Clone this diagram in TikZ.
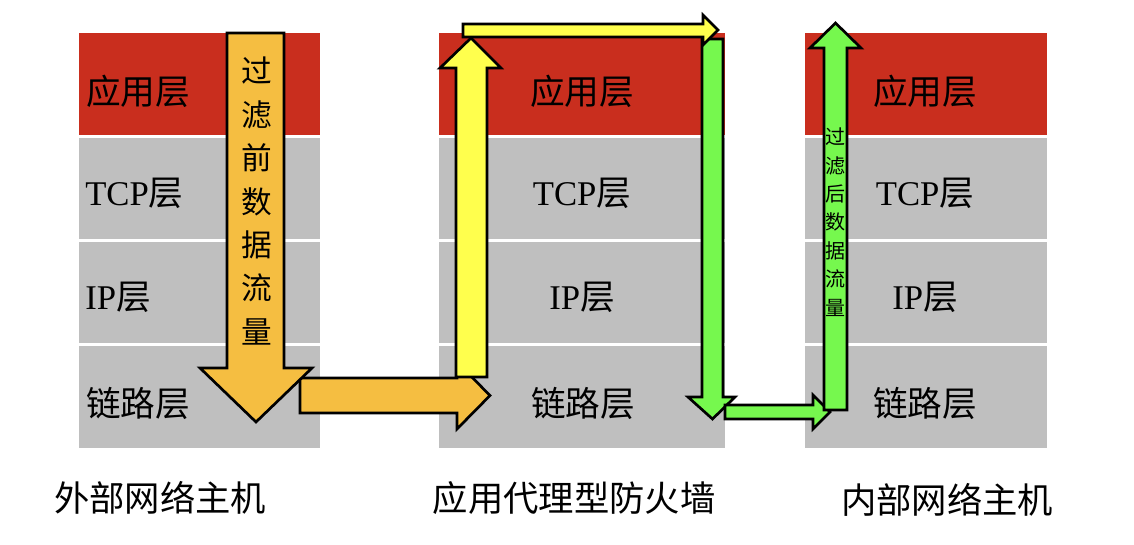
\documentclass[tikz,border=0pt]{standalone}
\usepackage{fontspec}
\setmainfont{Liberation Serif}
\newfontfamily\cjk{Noto Sans CJK SC}
\definecolor{layred}{RGB}{201,46,30}
\definecolor{laygray}{RGB}{191,191,191}
\definecolor{arrorange}{RGB}{245,190,65}
\definecolor{arryellow}{RGB}{255,255,77}
\definecolor{arrgreen}{RGB}{118,248,78}
\tikzset{
  blk/.style={draw=black, line width=2pt, line join=miter},
  laylabel/.style={inner sep=0pt, font=\fontsize{26}{28}\selectfont},
  hostlabel/.style={inner sep=0pt, font=\cjk\fontsize{26.5}{28}\selectfont},
}
\begin{document}
\begin{tikzpicture}[x=0.75pt,y=-0.75pt]
\useasboundingbox (0,0) rectangle (1134,544);
\fill[white] (0,0) rectangle (1134,544);
% columns
\foreach \xa/\xb in {79/320, 439/725, 805/1047}{
  \fill[layred] (\xa,33) rectangle (\xb,135);
  \fill[laygray] (\xa,138) rectangle (\xb,239);
  \fill[laygray] (\xa,242) rectangle (\xb,343);
  \fill[laygray] (\xa,346) rectangle (\xb,448);
}
% layer labels, left column
\node[laylabel, anchor=west] (la) at (86,91) {\cjk 应用层};
\node[laylabel, anchor=west] (lt) at (85,193) {TCP{\cjk 层}};
\node[laylabel, anchor=west] (li) at (85,297) {IP{\cjk 层}};
\node[laylabel, anchor=west] (ll) at (86,403) {\cjk 链路层};
% middle column
\node[laylabel] (ma) at (582,91) {\cjk 应用层};
\node[laylabel] (mt) at (582,193) {TCP{\cjk 层}};
\node[laylabel] (mi) at (582,297) {IP{\cjk 层}};
\node[laylabel] (ml) at (583,403) {\cjk 链路层};
% right column
\node[laylabel] (ra) at (925,91) {\cjk 应用层};
\node[laylabel] (rt) at (925,193) {TCP{\cjk 层}};
\node[laylabel] (ri) at (925,297) {IP{\cjk 层}};
\node[laylabel] (rl) at (925,403) {\cjk 链路层};
% arrows
\draw[blk, fill=arrorange] (300,378) -- (457,378) -- (457,362) -- (490,395.5) -- (457,429) -- (457,413) -- (300,413) -- cycle;
\draw[blk, fill=arrorange] (227,33) -- (284,33) -- (284,368) -- (312,368) -- (256,422) -- (200,368) -- (227,368) -- cycle;
\draw[blk, fill=arrgreen] (702,39) -- (723,39) -- (723,397) -- (735,397) -- (712.5,419) -- (688,397) -- (702,397) -- cycle;
\draw[blk, fill=arryellow] (456,377) -- (456,68) -- (440,68) -- (471,38) -- (501,68) -- (487,68) -- (487,377) -- cycle;
\draw[blk, fill=arryellow] (463,24) -- (703,24) -- (703,15) -- (718,30) -- (703,45) -- (703,37) -- (463,37) -- cycle;
\draw[blk, fill=arrgreen] (725,405) -- (813,405) -- (813,395) -- (830,412) -- (813,429) -- (813,419) -- (725,419) -- cycle;
\draw[blk, fill=arrgreen] (824,410) -- (824,48) -- (810,48) -- (835.5,23) -- (861,48) -- (847,48) -- (847,410) -- cycle;
% arrow texts
\node[inner sep=0pt, align=center, font=\cjk\fontsize{23}{32.6}\selectfont] (before) at (256.5,201) {过\\滤\\前\\数\\据\\流\\量};
\node[inner sep=0pt, align=center, font=\cjk\fontsize{15}{21.3}\selectfont] (after) at (835.5,222) {过\\滤\\后\\数\\据\\流\\量};
% host labels
\node[hostlabel] (h1) at (160,498) {外部网络主机};
\node[hostlabel] (h2) at (574,498) {应用代理型防火墙};
\node[hostlabel] (h3) at (947,500) {内部网络主机};
\end{tikzpicture}
\end{document}
